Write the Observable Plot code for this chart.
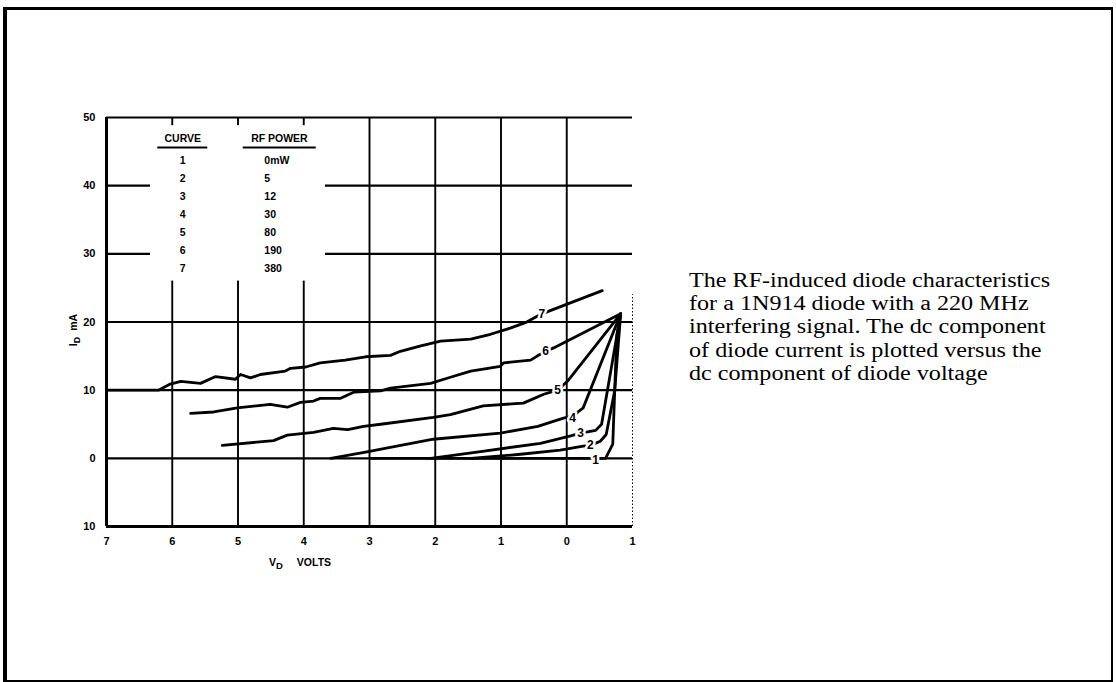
<!DOCTYPE html>
<html>
<head>
<meta charset="utf-8">
<script src="https://cdn.jsdelivr.net/npm/d3@7"></script>
<script src="https://cdn.jsdelivr.net/npm/@observablehq/plot@0.6"></script>
<style>
  html, body { margin: 0; padding: 0; background: #fff; }
  body { width: 1116px; height: 682px; position: relative; overflow: hidden; }
  #frame { position: absolute; left: 3px; top: 7px; width: 1110px; height: 675px; box-sizing: border-box;
           border-left: 4px solid #000; border-top: 3px solid #000; border-right: 2px solid #000; border-bottom: 2px solid #000; }
  #chart { position: absolute; left: 0; top: 0; }
  #caption { position: absolute; left: 689px; top: 268px; font-family: "Liberation Serif", "Times New Roman", serif;
             font-size: 20.8px; line-height: 23.2px; color: #000; white-space: nowrap;
             transform: scaleX(1.16); transform-origin: 0 0; }
</style>
</head>
<body>
<div id="frame"></div>
<div id="chart"></div>
<div id="caption">The RF-induced diode characteristics<br>for a 1N914 diode with a 220 MHz<br>interfering signal. The dc component<br>of diode current is plotted versus the<br>dc component of diode voltage</div>
<script>
// ---------- data ----------
const xTicks = [-0.7, -0.6, -0.5, -0.4, -0.3, -0.2, -0.1, 0, 0.1];
const xTickLabels = ["7", "6", "5", "4", "3", "2", "1", "0", "1"];
const yTicks = [50, 40, 30, 20, 10, 0, -10];
const yTickLabels = ["50", "40", "30", "20", "10", "0", "10"];

const curveIds = [1, 2, 3, 4, 5, 6, 7];
const rfPower = ["0mW", "5", "12", "30", "80", "190", "380"];

// diode voltage (V) and current (mA) for each curve
const curve1V = [-0.30, 0.059, 0.070, 0.076, 0.082];
const curve1I = [0, 0, 2.1, 18.0, 21.2];
const curve2V = [-0.146, -0.070, -0.010, 0.025, 0.036, 0.051, 0.060, 0.073, 0.082];
const curve2I = [0, 0.6, 1.2, 1.8, 1.9, 2.5, 3.5, 10.0, 21.2];
const curve3V = [-0.207, -0.131, -0.040, 0.006, 0.021, 0.044, 0.053, 0.082];
const curve3I = [0, 1.0, 2.2, 3.3, 3.7, 4.1, 5.0, 21.2];
const curve4V = [-0.359, -0.306, -0.203, -0.101, -0.044, -0.005, 0.009, 0.025, 0.082];
const curve4I = [0, 0.9, 2.8, 3.7, 4.7, 5.9, 6.2, 7.4, 21.2];
const curve5V = [-0.524, -0.446, -0.425, -0.385, -0.355, -0.333, -0.309, -0.283, -0.203, -0.177, -0.127, -0.066, -0.035, -0.014, 0.001, 0.082];
const curve5I = [1.9, 2.6, 3.4, 3.8, 4.4, 4.2, 4.7, 5.0, 6.0, 6.4, 7.7, 8.1, 9.4, 10.0, 11.3, 21.2];
const curve6V = [-0.572, -0.537, -0.501, -0.451, -0.425, -0.405, -0.385, -0.375, -0.344, -0.324, -0.283, -0.268, -0.207, -0.177, -0.146, -0.101, -0.096, -0.055, -0.045, -0.032, -0.020, 0.082];
const curve6I = [6.6, 6.8, 7.4, 7.9, 7.5, 8.2, 8.4, 8.8, 8.8, 9.7, 9.9, 10.3, 11.0, 11.9, 12.8, 13.5, 14.0, 14.4, 15.0, 15.7, 16.2, 21.2];
const curve7V = [-0.700, -0.621, -0.603, -0.587, -0.557, -0.534, -0.504, -0.496, -0.481, -0.466, -0.428, -0.420, -0.397, -0.375, -0.337, -0.306, -0.268, -0.253, -0.222, -0.192, -0.146, -0.116, -0.086, -0.063, -0.038, 0.054];
const curve7I = [10.0, 10.0, 10.9, 11.3, 11.0, 12.0, 11.6, 12.3, 11.8, 12.3, 12.8, 13.2, 13.4, 14.0, 14.4, 14.9, 15.1, 15.7, 16.5, 17.2, 17.5, 18.2, 19.1, 19.9, 21.2, 24.6];

// curve number labels placed on the curves
const labelV = [0.044, 0.036, 0.021, 0.009, -0.014, -0.032, -0.038];
const labelI = [-0.3, 1.9, 3.7, 5.9, 10.0, 15.7, 21.2];

// ---------- build tables ----------
const curvesV = [curve1V, curve2V, curve3V, curve4V, curve5V, curve6V, curve7V];
const curvesI = [curve1I, curve2I, curve3I, curve4I, curve5I, curve6I, curve7I];
const points = [];
curveIds.forEach((c, k) => curvesV[k].forEach((v, j) => points.push({curve: c, v, i: curvesI[k][j]})));
const labels = curveIds.map((c, k) => ({curve: String(c), v: labelV[k], i: labelI[k]}));
const legendRows = curveIds.map((c, k) => ({curve: String(c), power: rfPower[k], row: k}));

const xLabelOf = new Map(xTicks.map((t, k) => [t, xTickLabels[k]]));
const yLabelOf = new Map(yTicks.map((t, k) => [t, yTickLabels[k]]));

const sans = "'Liberation Sans', Arial, sans-serif";
const gridX = xTicks.slice(1, -1);
const gridY = yTicks.slice(0, -1);

const rowY = (d) => 43.7 - d.row * 2.65;

const chart = Plot.plot({
  width: 680,
  height: 600,
  marginLeft: 106,
  marginRight: 48,
  marginTop: 117,
  marginBottom: 74,
  style: {fontFamily: sans, background: "transparent", overflow: "visible"},
  x: {domain: [-0.7, 0.1]},
  y: {domain: [-10, 50]},
  marks: [
    // grid
    Plot.ruleY(gridY, {x1: -0.7, x2: 0.1, stroke: "#000", strokeWidth: 2.2}),
    Plot.ruleX(gridX, {y1: -10, y2: 50, stroke: "#000", strokeWidth: 1.9}),
    Plot.ruleX([0.1], {y1: -10, y2: 24, stroke: "#000", strokeWidth: 1, strokeDasharray: "1.5,2"}),
    // legend box mask
    Plot.rect([0], {x1: -0.633, x2: -0.367, y1: 26, y2: 48.8, fill: "white"}),
    // frame (left and bottom)
    Plot.ruleX([-0.7], {y1: -10, y2: 50, stroke: "#000", strokeWidth: 3}),
    Plot.ruleY([-10], {x1: -0.7, x2: 0.1, stroke: "#000", strokeWidth: 3}),
    // curves
    Plot.line(points, {x: "v", y: "i", z: "curve", stroke: "#000", strokeWidth: 2.8, strokeLinejoin: "round", strokeLinecap: "round"}),
    // curve labels with white halo
    Plot.text(labels, {x: "v", y: "i", text: "curve", fill: "#000", stroke: "white", strokeWidth: 5,
                       fontWeight: "bold", fontSize: 12}),
    // legend table
    Plot.text(["CURVE"], {x: -0.584, y: 46.9, text: d => d, fontWeight: "bold", fontSize: 10.5}),
    Plot.text(["RF POWER"], {x: -0.437, y: 46.9, text: d => d, fontWeight: "bold", fontSize: 10.5}),
    Plot.ruleY([45.6], {x1: -0.622, x2: -0.546, stroke: "#000", strokeWidth: 2}),
    Plot.ruleY([45.6], {x1: -0.492, x2: -0.381, stroke: "#000", strokeWidth: 2}),
    Plot.text(legendRows, {x: -0.584, y: rowY, text: "curve", fontWeight: "bold", fontSize: 10.5}),
    Plot.text(legendRows, {x: -0.460, y: rowY, text: "power", textAnchor: "start", fontWeight: "bold", fontSize: 10.5}),
    // axes
    Plot.axisX({ticks: xTicks, tickSize: 0, tickPadding: 11, tickFormat: d => xLabelOf.get(d) ?? "",
                fontSize: 11, fontWeight: "bold", label: null}),
    Plot.axisY({ticks: yTicks, tickSize: 0, tickPadding: 11, tickFormat: d => yLabelOf.get(d) ?? "",
                fontSize: 11, fontWeight: "bold", label: null})
  ]
});

document.getElementById("chart").appendChild(chart);

// axis titles with subscripts
const svg = d3.select(chart);
const yt = svg.append("text")
  .attr("transform", "translate(77,330) rotate(-90)")
  .attr("text-anchor", "middle")
  .attr("font-family", sans).attr("font-size", 10.5).attr("font-weight", "bold");
yt.append("tspan").text("I");
yt.append("tspan").attr("dy", 3).attr("font-size", 9).text("D");
yt.append("tspan").attr("dy", -3).attr("dx", 6).text("mA");

const xt = svg.append("text")
  .attr("x", 300).attr("y", 566)
  .attr("font-family", sans).attr("font-size", 10.5).attr("font-weight", "bold");
xt.append("tspan").text("V");
xt.append("tspan").attr("dy", 3).attr("font-size", 9.5).text("D");
xt.append("tspan").attr("dy", -3).attr("dx", 14).text("VOLTS");
</script>
</body>
</html>
